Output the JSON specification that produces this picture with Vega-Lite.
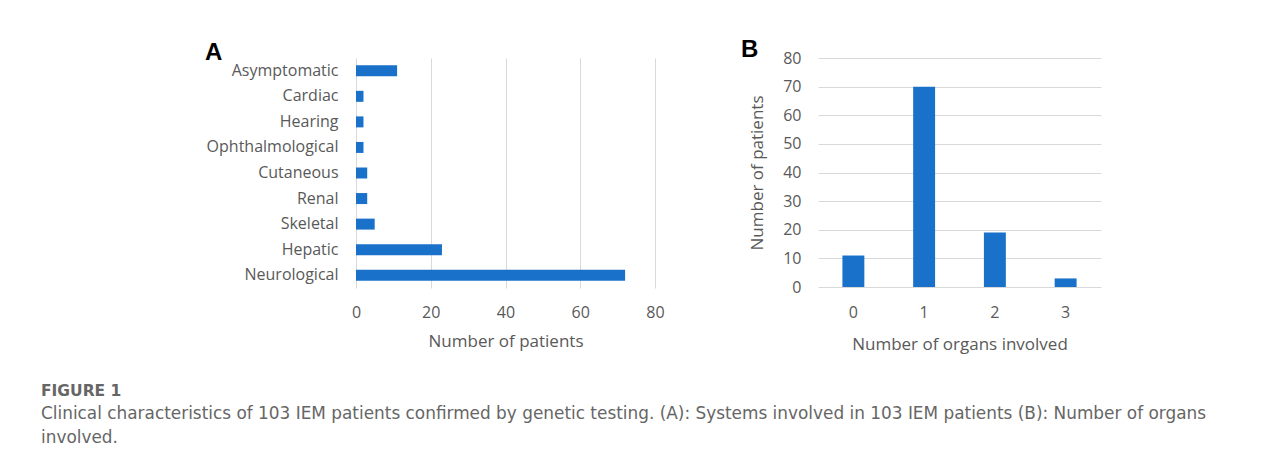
{
  "$schema": "https://vega.github.io/schema/vega-lite/v6.json",
  "padding": {"left": 41, "top": 38, "right": 5, "bottom": 5},
  "autosize": {"type": "pad"},
  "background": "white",
  "config": {
    "view": {"stroke": null},
    "font": "Open Sans",
    "axis": {
      "labelFont": "Open Sans",
      "titleFont": "Open Sans",
      "labelColor": "#595959",
      "titleColor": "#595959",
      "labelFontSize": 16,
      "titleFontSize": 17,
      "titleFontWeight": "normal",
      "gridColor": "#d9d9d9",
      "gridWidth": 1,
      "ticks": false,
      "domain": false,
      "labelFlush": false
    }
  },
  "bounds": "flush",
  "spacing": 163,
  "title": {
    "text": "FIGURE 1",
    "subtitle": ["Clinical characteristics of 103 IEM patients confirmed by genetic testing. (A): Systems involved in 103 IEM patients (B): Number of organs", "involved."],
    "orient": "bottom",
    "anchor": "start",
    "frame": "bounds",
    "offset": 32,
    "font": "DejaVu Sans",
    "fontSize": 15.5,
    "fontWeight": "bold",
    "color": "#666666",
    "subtitleFont": "DejaVu Sans",
    "subtitleFontSize": 16.9,
    "subtitleColor": "#666666",
    "subtitleLineHeight": 24,
    "subtitlePadding": 6
  },
  "hconcat": [
    {
      "width": 299,
      "height": 230,
      "title": {"text": "A", "anchor": "start", "frame": "group", "dx": -151, "offset": -26, "baseline": "alphabetic", "font": "Liberation Sans", "fontSize": 24, "fontWeight": "bold", "color": "#000000"},
      "data": {"values": [
        {"system": "Asymptomatic", "patients": 11},
        {"system": "Cardiac\u00a0\u00a0", "patients": 2},
        {"system": "Hearing", "patients": 2},
        {"system": "Ophthalmological", "patients": 2},
        {"system": "Cutaneous", "patients": 3},
        {"system": "Renal", "patients": 3},
        {"system": "Skeletal", "patients": 5},
        {"system": "Hepatic", "patients": 23},
        {"system": "Neurological", "patients": 72}
      ]},
      "mark": {"type": "bar", "color": "#1a71c9"},
      "encoding": {
        "y": {"field": "system", "type": "nominal", "sort": null,
              "scale": {"paddingInner": 0.57, "paddingOuter": 0.285},
              "axis": {"title": null, "labelPadding": 18, "minExtent": 315, "maxExtent": 315}},
        "x": {"field": "patients", "type": "quantitative",
              "scale": {"domain": [0, 80], "nice": false},
              "axis": {"values": [0, 20, 40, 60, 80], "grid": true, "labelPadding": 16, "title": "Number of patients", "titlePadding": 13}}
      }
    },
    {
      "width": 283,
      "height": 229,
      "title": {"text": "B", "anchor": "start", "frame": "group", "dx": -77, "offset": -31, "baseline": "alphabetic", "font": "Liberation Sans", "fontSize": 24, "fontWeight": "bold", "color": "#000000"},
      "data": {"values": [
        {"organs": "0", "patients": 11},
        {"organs": "1", "patients": 70},
        {"organs": "2", "patients": 19},
        {"organs": "3", "patients": 3}
      ]},
      "mark": {"type": "bar", "color": "#1a71c9"},
      "encoding": {
        "x": {"field": "organs", "type": "ordinal", "sort": null,
              "scale": {"paddingInner": 0.69, "paddingOuter": 0.345},
              "axis": {"labelAngle": 0, "labelPadding": 17, "title": "Number of organs involved", "titlePadding": 16}},
        "y": {"field": "patients", "type": "quantitative",
              "scale": {"domain": [0, 80], "nice": false},
              "axis": {"values": [0, 10, 20, 30, 40, 50, 60, 70, 80], "grid": true, "labelPadding": 17, "title": "Number of patients", "titlePadding": 16}}
      }
    }
  ]
}
